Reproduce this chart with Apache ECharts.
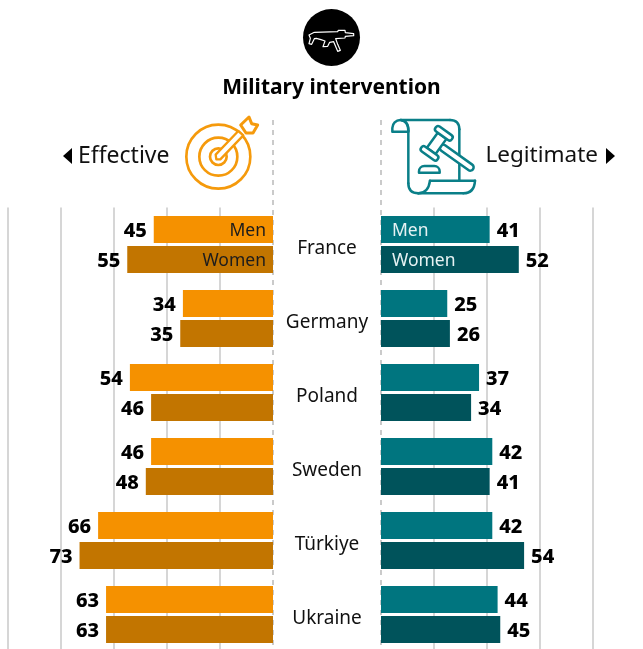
<!DOCTYPE html>
<html>
<head>
<meta charset="utf-8">
<style>html,body{margin:0;padding:0;background:#fff}#chart{width:643px;height:649px}</style>
<script src="https://cdn.jsdelivr.net/npm/echarts@6/dist/echarts.min.js"></script>
</head>
<body>
<div id="chart"></div>
<script>
// Survey shares by country and gender
const countries = ['France', 'Germany', 'Poland', 'Sweden', 'Türkiye', 'Ukraine'];
const effectiveMen = [45, 34, 54, 46, 66, 63];
const effectiveWomen = [55, 35, 46, 48, 73, 63];
const legitimateMen = [41, 25, 37, 42, 42, 44];
const legitimateWomen = [52, 26, 34, 41, 54, 45];
const axisTicks = { interval: 20, leftMax: 100, rightMax: 80 };

const FONT = '"Noto Sans", sans-serif';
const ORANGE = '#F59100', ORANGE_DARK = '#C27500', TEAL = '#00757F', TEAL_DARK = '#00535B';
const ICON_ORANGE = '#F59A0C', ICON_TEAL = '#0A7F88';

const chart = echarts.init(document.getElementById('chart'), null, { renderer: 'canvas' });

function barSeries(name, data, color, xIdx, side, legendText, legendColor) {
  return {
    name, type: 'bar', xAxisIndex: xIdx, yAxisIndex: xIdx, data,
    barWidth: 27, barGap: '11%', itemStyle: { color }, z: 3,
    label: {
      show: true, position: side, distance: 7, offset: [0, 1.5], color: '#000',
      fontFamily: FONT, fontWeight: 800, fontSize: 20
    },
    markPoint: {
      silent: true, symbol: 'circle', symbolSize: 2,
      itemStyle: { color: 'transparent' }, animation: false,
      data: [{
        coord: [0, countries[0]],
        label: {
          show: true, formatter: legendText, fontFamily: FONT, fontSize: 17.5, color: legendColor,
          position: xIdx === 0 ? 'left' : 'right', distance: 6, offset: [xIdx === 0 ? 0 : 4, 1.5]
        }
      }]
    }
  };
}

const valueAxis = (gridIndex, max, inverse) => ({
  type: 'value', gridIndex, min: 0, max, interval: axisTicks.interval, inverse,
  axisLabel: { show: false }, axisLine: { show: false }, axisTick: { show: false },
  splitLine: { show: true, showMinLine: false, lineStyle: { color: '#D6D6D6', width: 2 } }
});

const categoryAxis = (gridIndex, labelled) => ({
  type: 'category', gridIndex, data: countries, inverse: true,
  axisLine: { show: false }, axisTick: { show: false },
  axisLabel: labelled
    ? {
        show: true, margin: 54, align: 'center', formatter: '{name|{value}}',
        rich: { name: { color: '#111', fontFamily: FONT, fontSize: 19, lineHeight: 22, padding: [8, 0, 0, 0] } }
      }
    : { show: false }
});

chart.setOption({
  animation: false,
  title: {
    text: 'Military intervention', left: 331.5, top: 78, padding: 0, textAlign: 'center',
    textStyle: { fontFamily: FONT, fontWeight: 'bold', fontSize: 21, color: '#000' }
  },
  grid: [
    { left: 8, width: 265, top: 207.5, height: 444, outerBoundsMode: 'none' },
    { left: 381, width: 212, top: 207.5, height: 444, outerBoundsMode: 'none' }
  ],
  xAxis: [valueAxis(0, axisTicks.leftMax, true), valueAxis(1, axisTicks.rightMax, false)],
  yAxis: [categoryAxis(0, false), categoryAxis(1, true)],
  series: [
    barSeries('Effective, men', effectiveMen, ORANGE, 0, 'left', 'Men', '#1c1c1c'),
    barSeries('Effective, women', effectiveWomen, ORANGE_DARK, 0, 'left', 'Women', '#1c1c1c'),
    barSeries('Legitimate, men', legitimateMen, TEAL, 1, 'right', 'Men', '#E6F2F3'),
    barSeries('Legitimate, women', legitimateWomen, TEAL_DARK, 1, 'right', 'Women', '#E6F2F3')
  ]
});

// Drawing helpers for the decorative icons
const line = (x1, y1, x2, y2, s) => ({ type: 'line', shape: { x1, y1, x2, y2 }, style: s });
const curve = (x1, y1, cpx1, cpy1, x2, y2, s) => ({ type: 'bezierCurve', shape: { x1, y1, cpx1, cpy1, x2, y2 }, style: s });
const rr = (x, y, width, height, r, s) => ({ type: 'rect', shape: { x, y, width, height, r }, style: s });

const zeroLeft = chart.convertToPixel({ xAxisIndex: 0 }, 0);
const zeroRight = chart.convertToPixel({ xAxisIndex: 1 }, 0);
const dashStyle = { stroke: '#B9B9B9', lineWidth: 1.5, lineDash: [5, 5] };

const gunStroke = { stroke: '#fff', lineWidth: 3.6, fill: null, lineJoin: 'round' };
const gunIcon = {
  type: 'group', x: 295, y: 5, scaleX: 1 / 3, scaleY: 1 / 3,
  children: [
    { type: 'polyline', style: gunStroke, shape: { points: [
      [58, 82], [128, 80], [130, 76], [150, 76], [151, 83], [176, 86], [176, 92], [151, 94], [150, 99],
      [122, 101], [128, 118], [136, 136], [128, 139], [116, 110], [104, 112], [98, 124], [84, 125],
      [90, 108], [78, 104], [64, 100], [58, 101], [50, 118], [42, 116], [46, 100], [42, 90], [58, 82]
    ] } }
  ]
};

const tOrange = { stroke: ICON_ORANGE, lineWidth: 8, fill: null };
const targetIcon = {
  type: 'group', x: 175, y: 110, scaleX: 1 / 3, scaleY: 1 / 3,
  children: [
    { type: 'circle', shape: { cx: 130, cy: 140, r: 96 }, style: tOrange },
    { type: 'circle', shape: { cx: 130, cy: 140, r: 57 }, style: tOrange },
    { type: 'circle', shape: { cx: 130, cy: 140, r: 25 }, style: tOrange },
    { type: 'polygon', shape: { points: [[122, 134], [190, 63], [205, 76], [136, 148], [124, 148]] },
      style: { stroke: ICON_ORANGE, lineWidth: 7, fill: '#fff', lineJoin: 'round' } },
    { type: 'polygon', shape: { points: [[197, 45], [222, 21], [230, 41], [248, 45], [234, 69], [213, 69]] },
      style: { stroke: ICON_ORANGE, lineWidth: 9, fill: '#fff', lineJoin: 'round' } }
  ]
};

const teal = { stroke: ICON_TEAL, lineWidth: 7.5, fill: null, lineCap: 'round' };
const tealFilled = { stroke: ICON_TEAL, lineWidth: 7.5, fill: '#fff', lineJoin: 'round' };
const scrollIcon = {
  type: 'group', x: 375, y: 110, scaleX: 1 / 3, scaleY: 1 / 3,
  children: [
    rr(52, 30, 48, 35, [24, 24, 0, 0], tealFilled),
    line(78, 30, 225, 30, teal),
    curve(225, 30, 253, 30, 253, 58, teal),
    line(253, 58, 253, 212, teal),
    curve(78, 30, 100, 34, 100, 62, teal),
    line(100, 62, 100, 220, teal),
    curve(100, 220, 100, 250, 130, 250, teal),
    curve(130, 250, 160, 250, 165, 212, teal),
    line(165, 212, 300, 212, teal),
    curve(300, 212, 298, 250, 265, 250, teal),
    line(265, 250, 130, 250, teal),
    rr(132, 168, 62, 20, [16, 16, 0, 0], tealFilled),
    {
      type: 'group', x: 185, y: 100, rotation: -0.62,
      children: [
        rr(14, -10, 120, 20, 10, tealFilled),
        rr(-16, -28, 32, 56, 0, tealFilled),
        rr(-30, -46, 60, 18, 8, tealFilled),
        rr(-30, 28, 60, 18, 8, tealFilled)
      ]
    }
  ]
};

chart.setOption({
  graphic: [
    line(zeroLeft, 120, zeroLeft, 646, dashStyle),
    line(zeroRight, 120, zeroRight, 646, dashStyle),
    { type: 'circle', shape: { cx: 331.5, cy: 37.5, r: 28.5 }, style: { fill: '#000' } },
    gunIcon,
    targetIcon,
    scrollIcon,
    { type: 'polygon', shape: { points: [[72, 148], [72, 164], [63, 156]] }, style: { fill: '#000' } },
    { type: 'polygon', shape: { points: [[606, 148], [606, 164], [615, 156]] }, style: { fill: '#000' } },
    { type: 'text', x: 78, y: 156, style: { text: 'Effective', fontFamily: FONT, fontSize: 23, fill: '#111', textAlign: 'left', textVerticalAlign: 'middle' } },
    { type: 'text', x: 598, y: 156, style: { text: 'Legitimate', fontFamily: FONT, fontSize: 22.5, fill: '#111', textAlign: 'right', textVerticalAlign: 'middle' } }
  ]
});
</script>
</body>
</html>
